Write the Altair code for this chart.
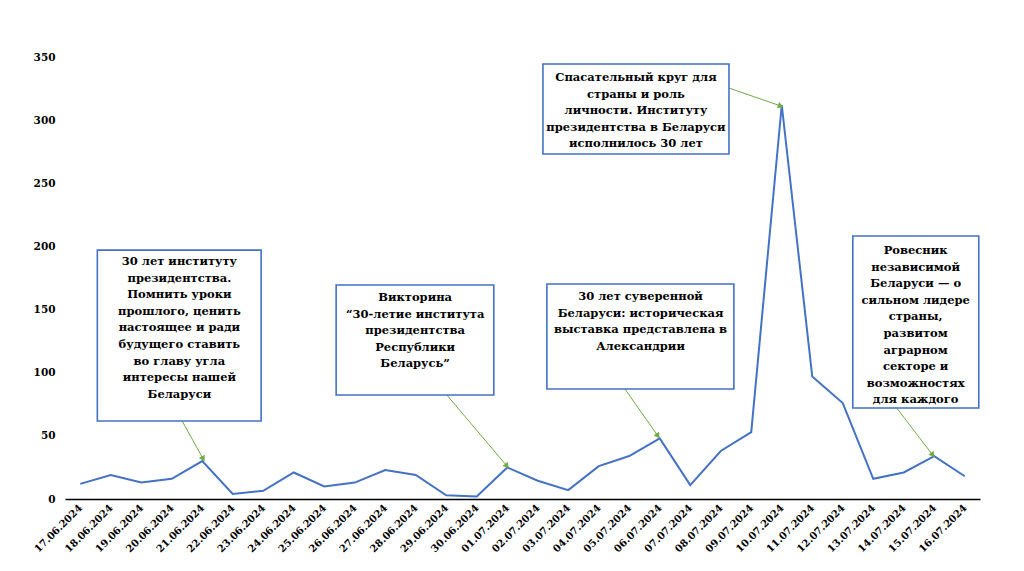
import altair as alt
import pandas as pd

dates = ["17.06.2024", "18.06.2024", "19.06.2024", "20.06.2024", "21.06.2024",
         "22.06.2024", "23.06.2024", "24.06.2024", "25.06.2024", "26.06.2024",
         "27.06.2024", "28.06.2024", "29.06.2024", "30.06.2024", "01.07.2024",
         "02.07.2024", "03.07.2024", "04.07.2024", "05.07.2024", "06.07.2024",
         "07.07.2024", "08.07.2024", "09.07.2024", "10.07.2024", "11.07.2024",
         "12.07.2024", "13.07.2024", "14.07.2024", "15.07.2024", "16.07.2024"]
values = [12, 19, 13, 16, 30, 4, 6.5, 21, 10, 13, 23, 19, 3, 2, 25,
          14.5, 7, 26, 34, 48, 11, 38, 53, 312, 97, 76, 16, 21, 34, 18]

# annotation texts
notes = [
    ["30 лет институту", "президентства.", "Помнить уроки", "прошлого, ценить",
     "настоящее и ради", "будущего ставить", "во главу угла", "интересы нашей", "Беларуси"],
    ["Викторина", "“30-летие института", "президентства", "Республики", "Беларусь”"],
    ["30 лет суверенной", "Беларуси: историческая", "выставка представлена в", "Александрии"],
    ["Спасательный круг для", "страны и роль", "личности. Институту",
     "президентства в Беларуси", "исполнилось 30 лет"],
    ["Ровесник", "независимой", "Беларуси — о", "сильном лидере", "страны,",
     "развитом", "аграрном", "секторе и", "возможностях", "для каждого"],
]
# boxes in data units (x = day index, y = value)
box_x1 = [0.56, 8.39, 15.30, 15.17, 25.33]
box_x2 = [5.93, 13.56, 21.43, 21.27, 29.46]
box_y1 = [61.8, 82.3, 87.1, 273.2, 72.0]
box_y2 = [197.1, 169.4, 170.2, 344.4, 208.2]
text_x = [3.25, 10.98, 18.37, 18.22, 27.39]
text_y = [192.4, 163.9, 164.7, 338.1, 201.1]
# arrows
arr_x1 = [3.34, 12.02, 17.86, 21.27, 26.77]
arr_y1 = [61.8, 82.3, 87.1, 325.4, 72.0]
arr_x2 = [4.03, 13.99, 18.94, 22.97, 27.95]
arr_y2 = [31.7, 26.1, 49.9, 311.2, 34.8]
arr_angle = [151, 140, 145, 109, 142]

FONT = "DejaVu Serif"
BLUE = "#4472C4"
GREEN = "#70AD47"

line_df = pd.DataFrame({"i": list(range(len(dates))), "date": dates, "v": values})
box_df = pd.DataFrame({"x1": box_x1, "x2": box_x2, "y1": box_y1, "y2": box_y2})
text_df = pd.DataFrame({"x": text_x, "y": text_y, "t": notes})
arr_df = pd.DataFrame({"x1": arr_x1, "y1": arr_y1, "x2": arr_x2, "y2": arr_y2, "a": arr_angle})

label_expr = "[" + ",".join("'%s'" % d for d in dates) + "][datum.value]"

xscale = alt.Scale(domain=[-0.5, len(dates) - 0.5], nice=False, zero=False)
yscale = alt.Scale(domain=[0, 350], nice=False)

x_axis = alt.Axis(values=list(range(len(dates))), labelExpr=label_expr, labelAngle=-45,
                  labelAlign="right", labelBaseline="middle",
                  labelFont=FONT, labelFontWeight="bold", labelFontSize=10,
                  labelColor="black", labelPadding=7, ticks=False, grid=False,
                  domainColor="black", domainWidth=1.6, title=None,
                  labelOverlap=False, labelBound=False, labelFlush=False)
y_axis = alt.Axis(values=[0, 50, 100, 150, 200, 250, 300, 350], labelFont=FONT,
                  labelFontWeight="bold", labelFontSize=10.5, labelColor="black",
                  ticks=False, domain=False, grid=False, labelPadding=10, title=None)

line = alt.Chart(line_df).mark_line(color=BLUE, strokeWidth=2).encode(
    x=alt.X("i:Q", scale=xscale, axis=x_axis),
    y=alt.Y("v:Q", scale=yscale, axis=y_axis),
)

arrows = alt.Chart(arr_df).mark_rule(color=GREEN, strokeWidth=1).encode(
    x=alt.X("x1:Q", scale=xscale, axis=x_axis), y=alt.Y("y1:Q", scale=yscale, axis=y_axis),
    x2="x2:Q", y2="y2:Q",
)
heads = alt.Chart(arr_df).mark_point(shape="triangle-up", filled=True, color=GREEN,
                                     size=45, opacity=1).encode(
    x=alt.X("x2:Q", scale=xscale, axis=x_axis), y=alt.Y("y2:Q", scale=yscale, axis=y_axis),
    angle=alt.Angle("a:Q", scale=None),
)

boxes = alt.Chart(box_df).mark_rect(fill="white", stroke=BLUE, strokeWidth=1.6).encode(
    x=alt.X("x1:Q", scale=xscale, axis=x_axis), x2="x2:Q",
    y=alt.Y("y1:Q", scale=yscale, axis=y_axis), y2="y2:Q",
)

texts = alt.Chart(text_df).mark_text(font=FONT, fontWeight="bold", fontSize=11.5,
                                     lineHeight=16.6, align="center", baseline="top",
                                     color="black").encode(
    x=alt.X("x:Q", scale=xscale, axis=x_axis), y=alt.Y("y:Q", scale=yscale, axis=y_axis),
    text="t",
)

chart = alt.layer(line, arrows, heads, boxes, texts).properties(
    width=915, height=442,
    autosize=alt.AutoSizeParams(type="none"),
    padding={"left": 65, "top": 57, "right": 44, "bottom": 72},
    background="white",
).configure_view(stroke=None)

chart.save("out.html", embed_options={"renderer": "svg", "actions": False})
